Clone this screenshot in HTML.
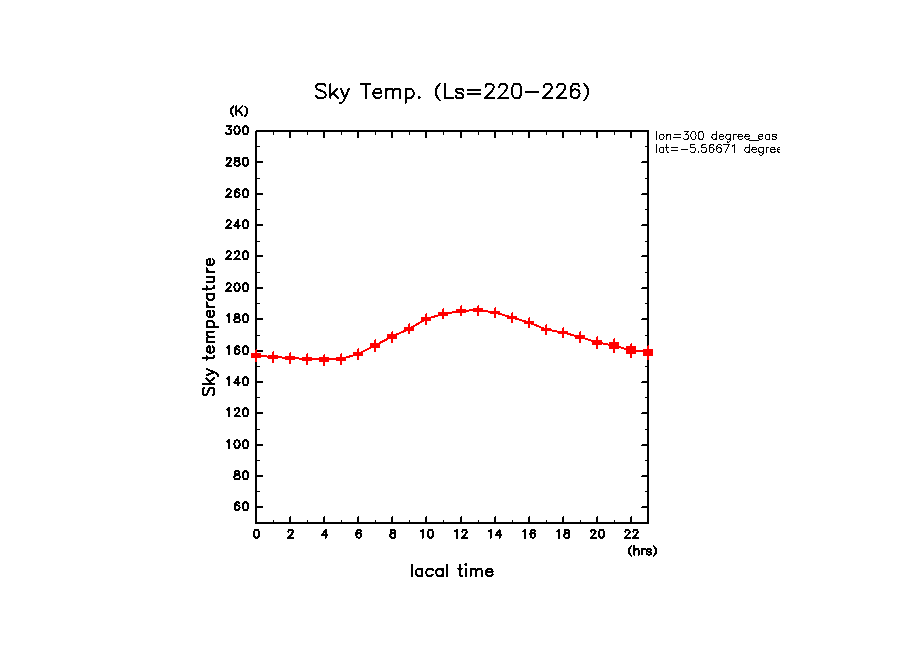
<!DOCTYPE html>
<html><head><meta charset="utf-8"><title>Sky Temp. (Ls=220-226)</title>
<style>html,body{margin:0;padding:0;overflow:hidden;background:#fff;font-family:"Liberation Sans",sans-serif}svg{display:block}</style>
</head><body>
<svg width="904" height="654" viewBox="0 0 904 654" shape-rendering="crispEdges">
<defs><clipPath id="c"><rect x="650" y="120" width="130" height="45"/></clipPath></defs>
<rect width="904" height="654" fill="#fff"/>
<g><rect x="255" y="130" width="394" height="2" fill="#000"/><rect x="255" y="522" width="394" height="2" fill="#000"/><rect x="255" y="130" width="2" height="394" fill="#000"/><rect x="647" y="130" width="2" height="394" fill="#000"/><rect x="255" y="130" width="1" height="1" fill="#fff"/><rect x="273" y="132" width="1" height="3" fill="#000"/><rect x="273" y="520" width="1" height="2" fill="#000"/><rect x="289" y="132" width="2" height="6" fill="#000"/><rect x="289" y="517" width="1" height="5" fill="#000"/><rect x="290" y="516" width="1" height="6" fill="#000"/><rect x="307" y="132" width="1" height="3" fill="#000"/><rect x="307" y="520" width="1" height="2" fill="#000"/><rect x="323" y="132" width="2" height="6" fill="#000"/><rect x="323" y="517" width="1" height="5" fill="#000"/><rect x="324" y="516" width="1" height="6" fill="#000"/><rect x="341" y="132" width="1" height="3" fill="#000"/><rect x="341" y="520" width="1" height="2" fill="#000"/><rect x="357" y="132" width="2" height="6" fill="#000"/><rect x="357" y="517" width="1" height="5" fill="#000"/><rect x="358" y="516" width="1" height="6" fill="#000"/><rect x="375" y="132" width="1" height="3" fill="#000"/><rect x="375" y="520" width="1" height="2" fill="#000"/><rect x="391" y="132" width="2" height="6" fill="#000"/><rect x="391" y="517" width="1" height="5" fill="#000"/><rect x="392" y="516" width="1" height="6" fill="#000"/><rect x="409" y="132" width="1" height="3" fill="#000"/><rect x="409" y="520" width="1" height="2" fill="#000"/><rect x="425" y="132" width="2" height="6" fill="#000"/><rect x="425" y="517" width="1" height="5" fill="#000"/><rect x="426" y="516" width="1" height="6" fill="#000"/><rect x="443" y="132" width="1" height="3" fill="#000"/><rect x="443" y="520" width="1" height="2" fill="#000"/><rect x="460" y="132" width="2" height="6" fill="#000"/><rect x="460" y="517" width="1" height="5" fill="#000"/><rect x="461" y="516" width="1" height="6" fill="#000"/><rect x="478" y="132" width="1" height="3" fill="#000"/><rect x="478" y="520" width="1" height="2" fill="#000"/><rect x="494" y="132" width="2" height="6" fill="#000"/><rect x="494" y="517" width="1" height="5" fill="#000"/><rect x="495" y="516" width="1" height="6" fill="#000"/><rect x="512" y="132" width="1" height="3" fill="#000"/><rect x="512" y="520" width="1" height="2" fill="#000"/><rect x="528" y="132" width="2" height="6" fill="#000"/><rect x="528" y="517" width="1" height="5" fill="#000"/><rect x="529" y="516" width="1" height="6" fill="#000"/><rect x="546" y="132" width="1" height="3" fill="#000"/><rect x="546" y="520" width="1" height="2" fill="#000"/><rect x="562" y="132" width="2" height="6" fill="#000"/><rect x="562" y="517" width="1" height="5" fill="#000"/><rect x="563" y="516" width="1" height="6" fill="#000"/><rect x="580" y="132" width="1" height="3" fill="#000"/><rect x="580" y="520" width="1" height="2" fill="#000"/><rect x="596" y="132" width="2" height="6" fill="#000"/><rect x="596" y="517" width="1" height="5" fill="#000"/><rect x="597" y="516" width="1" height="6" fill="#000"/><rect x="614" y="132" width="1" height="3" fill="#000"/><rect x="614" y="520" width="1" height="2" fill="#000"/><rect x="630" y="132" width="2" height="6" fill="#000"/><rect x="630" y="517" width="1" height="5" fill="#000"/><rect x="631" y="516" width="1" height="6" fill="#000"/><rect x="257" y="506" width="6" height="2" fill="#000"/><rect x="642" y="506" width="5" height="1" fill="#000"/><rect x="641" y="507" width="6" height="1" fill="#000"/><rect x="257" y="491" width="3" height="1" fill="#000"/><rect x="645" y="491" width="2" height="1" fill="#000"/><rect x="257" y="475" width="6" height="2" fill="#000"/><rect x="642" y="475" width="5" height="1" fill="#000"/><rect x="641" y="476" width="6" height="1" fill="#000"/><rect x="257" y="460" width="3" height="1" fill="#000"/><rect x="645" y="460" width="2" height="1" fill="#000"/><rect x="257" y="444" width="6" height="2" fill="#000"/><rect x="642" y="444" width="5" height="1" fill="#000"/><rect x="641" y="445" width="6" height="1" fill="#000"/><rect x="257" y="429" width="3" height="1" fill="#000"/><rect x="645" y="429" width="2" height="1" fill="#000"/><rect x="257" y="412" width="6" height="2" fill="#000"/><rect x="642" y="412" width="5" height="1" fill="#000"/><rect x="641" y="413" width="6" height="1" fill="#000"/><rect x="257" y="397" width="3" height="1" fill="#000"/><rect x="645" y="397" width="2" height="1" fill="#000"/><rect x="257" y="381" width="6" height="2" fill="#000"/><rect x="642" y="381" width="5" height="1" fill="#000"/><rect x="641" y="382" width="6" height="1" fill="#000"/><rect x="257" y="366" width="3" height="1" fill="#000"/><rect x="645" y="366" width="2" height="1" fill="#000"/><rect x="257" y="350" width="6" height="2" fill="#000"/><rect x="642" y="350" width="5" height="1" fill="#000"/><rect x="641" y="351" width="6" height="1" fill="#000"/><rect x="257" y="335" width="3" height="1" fill="#000"/><rect x="645" y="335" width="2" height="1" fill="#000"/><rect x="257" y="318" width="6" height="2" fill="#000"/><rect x="642" y="318" width="5" height="1" fill="#000"/><rect x="641" y="319" width="6" height="1" fill="#000"/><rect x="257" y="303" width="3" height="1" fill="#000"/><rect x="645" y="303" width="2" height="1" fill="#000"/><rect x="257" y="287" width="6" height="2" fill="#000"/><rect x="642" y="287" width="5" height="1" fill="#000"/><rect x="641" y="288" width="6" height="1" fill="#000"/><rect x="257" y="272" width="3" height="1" fill="#000"/><rect x="645" y="272" width="2" height="1" fill="#000"/><rect x="257" y="255" width="6" height="2" fill="#000"/><rect x="642" y="255" width="5" height="1" fill="#000"/><rect x="641" y="256" width="6" height="1" fill="#000"/><rect x="257" y="241" width="3" height="1" fill="#000"/><rect x="645" y="241" width="2" height="1" fill="#000"/><rect x="257" y="224" width="6" height="2" fill="#000"/><rect x="642" y="224" width="5" height="1" fill="#000"/><rect x="641" y="225" width="6" height="1" fill="#000"/><rect x="257" y="209" width="3" height="1" fill="#000"/><rect x="645" y="209" width="2" height="1" fill="#000"/><rect x="257" y="193" width="6" height="2" fill="#000"/><rect x="642" y="193" width="5" height="1" fill="#000"/><rect x="641" y="194" width="6" height="1" fill="#000"/><rect x="257" y="178" width="3" height="1" fill="#000"/><rect x="645" y="178" width="2" height="1" fill="#000"/><rect x="257" y="161" width="6" height="2" fill="#000"/><rect x="642" y="161" width="5" height="1" fill="#000"/><rect x="641" y="162" width="6" height="1" fill="#000"/><rect x="257" y="146" width="3" height="1" fill="#000"/><rect x="645" y="146" width="2" height="1" fill="#000"/></g>
<g><path d="M325.52 85.78L324.16 84.40L322.12 83.71L319.40 83.71L317.36 84.40L316.00 85.78L316.00 87.16L317.36 89.23L324.16 91.99L325.52 94.06L325.52 96.13L324.16 97.51L322.12 98.20L319.40 98.20L317.36 97.51L316.00 96.13M330.46 98.20L330.46 95.44M337.94 98.20L333.18 92.68M330.46 95.44L333.18 92.68M330.46 95.44L330.46 83.71M337.26 88.54L333.18 92.68M340.16 103.03L342.20 102.34L343.56 100.96L344.92 98.20M344.92 98.20L349.00 88.54M344.92 98.20L340.84 88.54" fill="none" stroke="#000" stroke-width="2" stroke-linecap="round" stroke-linejoin="round" /><path d="M365.76 83.71L365.76 98.20M365.76 83.71L370.52 83.71M365.76 83.71L361.00 83.71M373.29 92.68L381.45 92.68L381.45 91.30L380.09 89.23L378.73 88.54L376.69 88.54L375.33 89.23L373.97 90.61L373.29 92.68M373.29 92.68L373.29 94.06L373.97 96.13L375.33 97.51L376.69 98.20L378.73 98.20L380.09 97.51L381.45 96.13M386.26 88.54L386.26 91.30M386.26 98.20L386.26 91.30M393.22 98.20L393.22 91.30M386.26 91.30L388.16 89.23L389.43 88.54L391.32 88.54L392.59 89.23L393.22 91.30M400.18 98.20L400.18 91.30L399.54 89.23L398.28 88.54L396.38 88.54L395.12 89.23L393.22 91.30M405.67 96.13L405.67 103.03M405.67 96.13L407.03 97.51L408.39 98.20L410.43 98.20L411.79 97.51L413.15 96.13L413.83 94.06L413.83 92.68L413.15 90.61L411.79 89.23L410.43 88.54L408.39 88.54L407.03 89.23L405.67 90.61M405.67 96.13L405.67 90.61M405.67 90.61L405.67 88.54M419.32 98.20L418.64 97.51L419.32 96.82L420.00 97.51L419.32 98.20" fill="none" stroke="#000" stroke-width="2" stroke-linecap="round" stroke-linejoin="round" /><path d="M439.81 83.71L437.63 86.30L436.54 88.37L436.00 90.95L436.00 93.03L436.54 95.61L438.72 99.23L439.81 100.27M444.97 83.71L444.97 98.20L453.13 98.20M455.77 96.13L456.45 97.51L458.49 98.20L460.53 98.20L462.57 97.51L463.25 96.13L462.57 94.06L461.21 93.37L457.81 92.68L456.45 91.99L455.77 90.61L456.45 89.23L458.49 88.54L460.53 88.54L462.57 89.23L463.25 90.61M480.17 94.06L467.93 94.06M480.17 89.92L467.93 89.92M494.37 98.20L484.85 98.20M484.85 98.20L491.65 91.30L493.69 87.85L493.69 86.47L493.01 85.09L490.97 83.71L488.25 83.71L486.89 84.40L486.21 85.09L485.53 87.16M507.89 98.20L498.37 98.20M498.37 98.20L505.17 91.30L507.21 87.85L507.21 86.47L506.53 85.09L504.49 83.71L501.77 83.71L500.41 84.40L499.73 85.09L499.05 87.16M515.97 98.20L517.33 98.20L519.37 97.51L520.73 95.44L521.41 91.99L521.41 89.92L520.73 86.47L519.37 84.40L517.33 83.71L515.97 83.71L513.93 84.40L512.57 86.47L511.89 89.92L511.89 91.99L512.57 95.44L513.93 97.51L515.97 98.20M526.09 91.99L538.33 91.99M552.54 98.20L543.02 98.20M543.02 98.20L549.82 91.30L551.86 87.85L551.86 86.47L551.18 85.09L549.14 83.71L546.42 83.71L545.06 84.40L544.38 85.09L543.70 87.16M566.06 98.20L556.54 98.20M556.54 98.20L563.34 91.30L565.38 87.85L565.38 86.47L564.70 85.09L562.66 83.71L559.94 83.71L558.58 84.40L557.90 85.09L557.22 87.16M570.74 93.03L570.74 89.92L571.42 86.81L572.78 84.40L574.82 83.71L576.18 83.71L578.22 84.40L578.90 85.78M570.74 93.03L571.42 91.30L572.78 89.92L574.82 89.23L577.54 89.92L578.90 91.30L579.58 93.37L578.90 96.13L577.54 97.51L574.82 98.20L572.78 97.51L571.42 96.13L570.74 93.37M584.19 83.71L586.37 86.30L587.46 88.37L588.00 90.95L588.00 93.03L587.46 95.61L585.28 99.23L584.19 100.27" fill="none" stroke="#000" stroke-width="2" stroke-linecap="round" stroke-linejoin="round" /><path d="M233.30 106.40L231.98 107.90L231.33 109.10L231.00 110.60L231.00 111.80L231.33 113.30L232.64 115.40L233.30 116.00M242.18 114.80L238.49 110.00M242.18 106.40L238.49 110.00M236.44 114.80L236.44 112.00M236.44 106.40L236.44 112.00M238.49 110.00L236.44 112.00M245.00 106.40L246.32 107.90L246.97 109.10L247.30 110.60L247.30 111.80L246.97 113.30L245.66 115.40L245.00 116.00" fill="none" stroke="#000" stroke-width="2" stroke-linecap="round" stroke-linejoin="round" /><path d="M234.83 507.35L234.83 505.64L235.20 503.93L235.94 502.60L237.05 502.22L237.79 502.22L238.90 502.60L239.27 503.36M234.83 507.35L235.20 506.40L235.94 505.64L237.05 505.26L238.53 505.64L239.27 506.40L239.64 507.54L239.27 509.06L238.53 509.82L237.05 510.20L235.94 509.82L235.20 509.06L234.83 507.54M245.04 510.20L245.78 510.20L246.89 509.82L247.63 508.68L248.00 506.78L248.00 505.64L247.63 503.74L246.89 502.60L245.78 502.22L245.04 502.22L243.93 502.60L243.19 503.74L242.82 505.64L242.82 506.78L243.19 508.68L243.93 509.82L245.04 510.20" fill="none" stroke="#000" stroke-width="2" stroke-linecap="round" stroke-linejoin="round" /><path d="M237.05 474.64L235.20 473.88L234.83 473.12L234.83 472.36L235.20 471.60L236.31 471.22L237.79 471.22L238.90 471.60L239.27 472.36L239.27 473.12L238.90 473.88L237.05 474.64M237.05 474.64L235.57 475.02L234.83 475.78L234.46 476.54L234.46 477.68L234.83 478.44L235.20 478.82L236.31 479.20L237.79 479.20L238.90 478.82L239.27 478.44L239.64 477.68L239.64 476.54L239.27 475.78L238.53 475.02L237.05 474.64M245.04 479.20L245.78 479.20L246.89 478.82L247.63 477.68L248.00 475.78L248.00 474.64L247.63 472.74L246.89 471.60L245.78 471.22L245.04 471.22L243.93 471.60L243.19 472.74L242.82 474.64L242.82 475.78L243.19 477.68L243.93 478.82L245.04 479.20" fill="none" stroke="#000" stroke-width="2" stroke-linecap="round" stroke-linejoin="round" /><path d="M229.06 440.22L229.06 448.20M229.06 440.22L227.95 441.36L227.21 441.74M236.68 448.20L237.42 448.20L238.53 447.82L239.27 446.68L239.64 444.78L239.64 443.64L239.27 441.74L238.53 440.60L237.42 440.22L236.68 440.22L235.57 440.60L234.83 441.74L234.46 443.64L234.46 444.78L234.83 446.68L235.57 447.82L236.68 448.20M245.04 448.20L245.78 448.20L246.89 447.82L247.63 446.68L248.00 444.78L248.00 443.64L247.63 441.74L246.89 440.60L245.78 440.22L245.04 440.22L243.93 440.60L243.19 441.74L242.82 443.64L242.82 444.78L243.19 446.68L243.93 447.82L245.04 448.20" fill="none" stroke="#000" stroke-width="2" stroke-linecap="round" stroke-linejoin="round" /><path d="M229.06 408.22L229.06 416.20M229.06 408.22L227.95 409.36L227.21 409.74M239.64 416.20L234.46 416.20M234.46 416.20L238.16 412.40L239.27 410.50L239.27 409.74L238.90 408.98L237.79 408.22L236.31 408.22L235.57 408.60L235.20 408.98L234.83 410.12M245.04 416.20L245.78 416.20L246.89 415.82L247.63 414.68L248.00 412.78L248.00 411.64L247.63 409.74L246.89 408.60L245.78 408.22L245.04 408.22L243.93 408.60L243.19 409.74L242.82 411.64L242.82 412.78L243.19 414.68L243.93 415.82L245.04 416.20" fill="none" stroke="#000" stroke-width="2" stroke-linecap="round" stroke-linejoin="round" /><path d="M229.06 377.22L229.06 385.20M229.06 377.22L227.95 378.36L227.21 378.74M240.01 382.54L238.16 382.54M238.16 377.22L238.16 382.54M234.46 382.54L238.16 377.22M234.46 382.54L238.16 382.54M238.16 382.54L238.16 385.20M245.04 385.20L245.78 385.20L246.89 384.82L247.63 383.68L248.00 381.78L248.00 380.64L247.63 378.74L246.89 377.60L245.78 377.22L245.04 377.22L243.93 377.60L243.19 378.74L242.82 380.64L242.82 381.78L243.19 383.68L243.93 384.82L245.04 385.20" fill="none" stroke="#000" stroke-width="2" stroke-linecap="round" stroke-linejoin="round" /><path d="M229.06 346.22L229.06 354.20M229.06 346.22L227.95 347.36L227.21 347.74M234.83 351.35L234.83 349.64L235.20 347.93L235.94 346.60L237.05 346.22L237.79 346.22L238.90 346.60L239.27 347.36M234.83 351.35L235.20 350.40L235.94 349.64L237.05 349.26L238.53 349.64L239.27 350.40L239.64 351.54L239.27 353.06L238.53 353.82L237.05 354.20L235.94 353.82L235.20 353.06L234.83 351.54M245.04 354.20L245.78 354.20L246.89 353.82L247.63 352.68L248.00 350.78L248.00 349.64L247.63 347.74L246.89 346.60L245.78 346.22L245.04 346.22L243.93 346.60L243.19 347.74L242.82 349.64L242.82 350.78L243.19 352.68L243.93 353.82L245.04 354.20" fill="none" stroke="#000" stroke-width="2" stroke-linecap="round" stroke-linejoin="round" /><path d="M229.06 314.22L229.06 322.20M229.06 314.22L227.95 315.36L227.21 315.74M237.05 317.64L235.20 316.88L234.83 316.12L234.83 315.36L235.20 314.60L236.31 314.22L237.79 314.22L238.90 314.60L239.27 315.36L239.27 316.12L238.90 316.88L237.05 317.64M237.05 317.64L235.57 318.02L234.83 318.78L234.46 319.54L234.46 320.68L234.83 321.44L235.20 321.82L236.31 322.20L237.79 322.20L238.90 321.82L239.27 321.44L239.64 320.68L239.64 319.54L239.27 318.78L238.53 318.02L237.05 317.64M245.04 322.20L245.78 322.20L246.89 321.82L247.63 320.68L248.00 318.78L248.00 317.64L247.63 315.74L246.89 314.60L245.78 314.22L245.04 314.22L243.93 314.60L243.19 315.74L242.82 317.64L242.82 318.78L243.19 320.68L243.93 321.82L245.04 322.20" fill="none" stroke="#000" stroke-width="2" stroke-linecap="round" stroke-linejoin="round" /><path d="M231.28 291.20L226.10 291.20M226.10 291.20L229.80 287.40L230.91 285.50L230.91 284.74L230.54 283.98L229.43 283.22L227.95 283.22L227.21 283.60L226.84 283.98L226.47 285.12M236.68 291.20L237.42 291.20L238.53 290.82L239.27 289.68L239.64 287.78L239.64 286.64L239.27 284.74L238.53 283.60L237.42 283.22L236.68 283.22L235.57 283.60L234.83 284.74L234.46 286.64L234.46 287.78L234.83 289.68L235.57 290.82L236.68 291.20M245.04 291.20L245.78 291.20L246.89 290.82L247.63 289.68L248.00 287.78L248.00 286.64L247.63 284.74L246.89 283.60L245.78 283.22L245.04 283.22L243.93 283.60L243.19 284.74L242.82 286.64L242.82 287.78L243.19 289.68L243.93 290.82L245.04 291.20" fill="none" stroke="#000" stroke-width="2" stroke-linecap="round" stroke-linejoin="round" /><path d="M231.28 259.20L226.10 259.20M226.10 259.20L229.80 255.40L230.91 253.50L230.91 252.74L230.54 251.98L229.43 251.22L227.95 251.22L227.21 251.60L226.84 251.98L226.47 253.12M239.64 259.20L234.46 259.20M234.46 259.20L238.16 255.40L239.27 253.50L239.27 252.74L238.90 251.98L237.79 251.22L236.31 251.22L235.57 251.60L235.20 251.98L234.83 253.12M245.04 259.20L245.78 259.20L246.89 258.82L247.63 257.68L248.00 255.78L248.00 254.64L247.63 252.74L246.89 251.60L245.78 251.22L245.04 251.22L243.93 251.60L243.19 252.74L242.82 254.64L242.82 255.78L243.19 257.68L243.93 258.82L245.04 259.20" fill="none" stroke="#000" stroke-width="2" stroke-linecap="round" stroke-linejoin="round" /><path d="M231.28 228.20L226.10 228.20M226.10 228.20L229.80 224.40L230.91 222.50L230.91 221.74L230.54 220.98L229.43 220.22L227.95 220.22L227.21 220.60L226.84 220.98L226.47 222.12M240.01 225.54L238.16 225.54M238.16 220.22L238.16 225.54M234.46 225.54L238.16 220.22M234.46 225.54L238.16 225.54M238.16 225.54L238.16 228.20M245.04 228.20L245.78 228.20L246.89 227.82L247.63 226.68L248.00 224.78L248.00 223.64L247.63 221.74L246.89 220.60L245.78 220.22L245.04 220.22L243.93 220.60L243.19 221.74L242.82 223.64L242.82 224.78L243.19 226.68L243.93 227.82L245.04 228.20" fill="none" stroke="#000" stroke-width="2" stroke-linecap="round" stroke-linejoin="round" /><path d="M231.28 197.20L226.10 197.20M226.10 197.20L229.80 193.40L230.91 191.50L230.91 190.74L230.54 189.98L229.43 189.22L227.95 189.22L227.21 189.60L226.84 189.98L226.47 191.12M234.83 194.35L234.83 192.64L235.20 190.93L235.94 189.60L237.05 189.22L237.79 189.22L238.90 189.60L239.27 190.36M234.83 194.35L235.20 193.40L235.94 192.64L237.05 192.26L238.53 192.64L239.27 193.40L239.64 194.54L239.27 196.06L238.53 196.82L237.05 197.20L235.94 196.82L235.20 196.06L234.83 194.54M245.04 197.20L245.78 197.20L246.89 196.82L247.63 195.68L248.00 193.78L248.00 192.64L247.63 190.74L246.89 189.60L245.78 189.22L245.04 189.22L243.93 189.60L243.19 190.74L242.82 192.64L242.82 193.78L243.19 195.68L243.93 196.82L245.04 197.20" fill="none" stroke="#000" stroke-width="2" stroke-linecap="round" stroke-linejoin="round" /><path d="M231.28 165.70L226.10 165.70M226.10 165.70L229.80 161.90L230.91 160.00L230.91 159.24L230.54 158.48L229.43 157.72L227.95 157.72L227.21 158.10L226.84 158.48L226.47 159.62M237.05 161.14L235.20 160.38L234.83 159.62L234.83 158.86L235.20 158.10L236.31 157.72L237.79 157.72L238.90 158.10L239.27 158.86L239.27 159.62L238.90 160.38L237.05 161.14M237.05 161.14L235.57 161.52L234.83 162.28L234.46 163.04L234.46 164.18L234.83 164.94L235.20 165.32L236.31 165.70L237.79 165.70L238.90 165.32L239.27 164.94L239.64 164.18L239.64 163.04L239.27 162.28L238.53 161.52L237.05 161.14M245.04 165.70L245.78 165.70L246.89 165.32L247.63 164.18L248.00 162.28L248.00 161.14L247.63 159.24L246.89 158.10L245.78 157.72L245.04 157.72L243.93 158.10L243.19 159.24L242.82 161.14L242.82 162.28L243.19 164.18L243.93 165.32L245.04 165.70" fill="none" stroke="#000" stroke-width="2" stroke-linecap="round" stroke-linejoin="round" /><path d="M230.91 126.22L228.69 129.26M230.91 126.22L226.84 126.22M226.10 132.68L226.84 133.82L227.95 134.20L229.06 134.20L230.17 133.82L230.91 133.06L231.28 131.92L231.28 131.16L230.91 130.02L229.80 129.26L228.69 129.26M236.68 134.20L237.42 134.20L238.53 133.82L239.27 132.68L239.64 130.78L239.64 129.64L239.27 127.74L238.53 126.60L237.42 126.22L236.68 126.22L235.57 126.60L234.83 127.74L234.46 129.64L234.46 130.78L234.83 132.68L235.57 133.82L236.68 134.20M245.04 134.20L245.78 134.20L246.89 133.82L247.63 132.68L248.00 130.78L248.00 129.64L247.63 127.74L246.89 126.60L245.78 126.22L245.04 126.22L243.93 126.60L243.19 127.74L242.82 129.64L242.82 130.78L243.19 132.68L243.93 133.82L245.04 134.20" fill="none" stroke="#000" stroke-width="2" stroke-linecap="round" stroke-linejoin="round" /><path d="M256.13 537.80L256.87 537.80L257.98 537.42L258.72 536.28L259.09 534.38L259.09 533.24L258.72 531.34L257.98 530.20L256.87 529.82L256.13 529.82L255.02 530.20L254.28 531.34L253.91 533.24L253.91 534.38L254.28 536.28L255.02 537.42L256.13 537.80" fill="none" stroke="#000" stroke-width="2" stroke-linecap="round" stroke-linejoin="round" /><path d="M293.18 537.80L288.00 537.80M288.00 537.80L291.70 534.00L292.81 532.10L292.81 531.34L292.44 530.58L291.33 529.82L289.85 529.82L289.11 530.20L288.74 530.58L288.37 531.72" fill="none" stroke="#000" stroke-width="2" stroke-linecap="round" stroke-linejoin="round" /><path d="M327.45 535.14L325.60 535.14M325.60 529.82L325.60 535.14M321.90 535.14L325.60 529.82M321.90 535.14L325.60 535.14M325.60 535.14L325.60 537.80" fill="none" stroke="#000" stroke-width="2" stroke-linecap="round" stroke-linejoin="round" /><path d="M356.36 534.95L356.36 533.24L356.73 531.53L357.47 530.20L358.58 529.82L359.32 529.82L360.43 530.20L360.80 530.96M356.36 534.95L356.73 534.00L357.47 533.24L358.58 532.86L360.06 533.24L360.80 534.00L361.17 535.14L360.80 536.66L360.06 537.42L358.58 537.80L357.47 537.42L356.73 536.66L356.36 535.14" fill="none" stroke="#000" stroke-width="2" stroke-linecap="round" stroke-linejoin="round" /><path d="M392.85 533.24L391.00 532.48L390.63 531.72L390.63 530.96L391.00 530.20L392.11 529.82L393.59 529.82L394.70 530.20L395.07 530.96L395.07 531.72L394.70 532.48L392.85 533.24M392.85 533.24L391.37 533.62L390.63 534.38L390.26 535.14L390.26 536.28L390.63 537.04L391.00 537.42L392.11 537.80L393.59 537.80L394.70 537.42L395.07 537.04L395.44 536.28L395.44 535.14L395.07 534.38L394.33 533.62L392.85 533.24" fill="none" stroke="#000" stroke-width="2" stroke-linecap="round" stroke-linejoin="round" /><path d="M422.68 529.82L422.68 537.80M422.68 529.82L421.57 530.96L420.83 531.34M430.08 537.80L430.82 537.80L431.93 537.42L432.67 536.28L433.04 534.38L433.04 533.24L432.67 531.34L431.93 530.20L430.82 529.82L430.08 529.82L428.97 530.20L428.23 531.34L427.86 533.24L427.86 534.38L428.23 536.28L428.97 537.42L430.08 537.80" fill="none" stroke="#000" stroke-width="2" stroke-linecap="round" stroke-linejoin="round" /><path d="M456.77 529.82L456.77 537.80M456.77 529.82L455.66 530.96L454.92 531.34M467.13 537.80L461.95 537.80M461.95 537.80L465.65 534.00L466.76 532.10L466.76 531.34L466.39 530.58L465.28 529.82L463.80 529.82L463.06 530.20L462.69 530.58L462.32 531.72" fill="none" stroke="#000" stroke-width="2" stroke-linecap="round" stroke-linejoin="round" /><path d="M490.67 529.82L490.67 537.80M490.67 529.82L489.56 530.96L488.82 531.34M501.40 535.14L499.55 535.14M499.55 529.82L499.55 535.14M495.85 535.14L499.55 529.82M495.85 535.14L499.55 535.14M499.55 535.14L499.55 537.80" fill="none" stroke="#000" stroke-width="2" stroke-linecap="round" stroke-linejoin="round" /><path d="M524.94 529.82L524.94 537.80M524.94 529.82L523.83 530.96L523.09 531.34M530.49 534.95L530.49 533.24L530.86 531.53L531.60 530.20L532.71 529.82L533.45 529.82L534.56 530.20L534.93 530.96M530.49 534.95L530.86 534.00L531.60 533.24L532.71 532.86L534.19 533.24L534.93 534.00L535.30 535.14L534.93 536.66L534.19 537.42L532.71 537.80L531.60 537.42L530.86 536.66L530.49 535.14" fill="none" stroke="#000" stroke-width="2" stroke-linecap="round" stroke-linejoin="round" /><path d="M559.03 529.82L559.03 537.80M559.03 529.82L557.92 530.96L557.18 531.34M566.80 533.24L564.95 532.48L564.58 531.72L564.58 530.96L564.95 530.20L566.06 529.82L567.54 529.82L568.65 530.20L569.02 530.96L569.02 531.72L568.65 532.48L566.80 533.24M566.80 533.24L565.32 533.62L564.58 534.38L564.21 535.14L564.21 536.28L564.58 537.04L564.95 537.42L566.06 537.80L567.54 537.80L568.65 537.42L569.02 537.04L569.39 536.28L569.39 535.14L569.02 534.38L568.28 533.62L566.80 533.24" fill="none" stroke="#000" stroke-width="2" stroke-linecap="round" stroke-linejoin="round" /><path d="M595.89 537.80L590.71 537.80M590.71 537.80L594.41 534.00L595.52 532.10L595.52 531.34L595.15 530.58L594.04 529.82L592.56 529.82L591.82 530.20L591.45 530.58L591.08 531.72M601.07 537.80L601.81 537.80L602.92 537.42L603.66 536.28L604.03 534.38L604.03 533.24L603.66 531.34L602.92 530.20L601.81 529.82L601.07 529.82L599.96 530.20L599.22 531.34L598.85 533.24L598.85 534.38L599.22 536.28L599.96 537.42L601.07 537.80" fill="none" stroke="#000" stroke-width="2" stroke-linecap="round" stroke-linejoin="round" /><path d="M629.98 537.80L624.80 537.80M624.80 537.80L628.50 534.00L629.61 532.10L629.61 531.34L629.24 530.58L628.13 529.82L626.65 529.82L625.91 530.20L625.54 530.58L625.17 531.72M638.12 537.80L632.94 537.80M632.94 537.80L636.64 534.00L637.75 532.10L637.75 531.34L637.38 530.58L636.27 529.82L634.79 529.82L634.05 530.20L633.68 530.58L633.31 531.72" fill="none" stroke="#000" stroke-width="2" stroke-linecap="round" stroke-linejoin="round" /><path d="M631.30 546.20L629.98 547.70L629.33 548.90L629.00 550.40L629.00 551.60L629.33 553.10L630.64 555.20L631.30 555.80M634.25 554.60L634.25 550.60M638.76 554.60L638.76 550.60L638.35 549.40L637.53 549.00L636.30 549.00L635.48 549.40L634.25 550.60M634.25 546.20L634.25 550.60M645.12 549.00L643.89 549.00L643.07 549.40L642.25 550.20L641.84 551.20M641.84 551.20L641.84 549.00M641.84 551.40L641.84 554.60M646.56 553.40L646.97 554.20L648.20 554.60L649.43 554.60L650.66 554.20L651.07 553.40L650.66 552.20L649.84 551.80L647.79 551.40L646.97 551.00L646.56 550.20L646.97 549.40L648.20 549.00L649.43 549.00L650.66 549.40L651.07 550.20M653.70 546.20L655.02 547.70L655.67 548.90L656.00 550.40L656.00 551.60L655.67 553.10L654.36 555.20L653.70 555.80" fill="none" stroke="#000" stroke-width="2" stroke-linecap="round" stroke-linejoin="round" /><path d="M412.00 564.65L412.00 576.20M422.40 576.20L422.40 574.55M422.40 574.55L422.40 570.15M422.40 574.55L420.20 576.20L418.55 576.20L417.45 575.65L416.35 574.55L415.80 572.90L415.80 571.80L416.35 570.15L417.45 569.05L418.55 568.50L420.20 568.50L422.40 570.15M422.40 570.15L422.40 568.50M432.80 570.15L431.70 569.05L430.60 568.50L428.95 568.50L427.85 569.05L426.75 570.15L426.20 571.80L426.20 572.90L426.75 574.55L427.85 575.65L428.95 576.20L430.60 576.20L431.70 575.65L432.80 574.55M442.65 576.20L442.65 574.55M442.65 574.55L442.65 570.15M442.65 574.55L440.45 576.20L438.80 576.20L437.70 575.65L436.60 574.55L436.05 572.90L436.05 571.80L436.60 570.15L437.70 569.05L438.80 568.50L440.45 568.50L442.65 570.15M442.65 570.15L442.65 568.50M447.00 564.65L447.00 576.20" fill="none" stroke="#000" stroke-width="2" stroke-linecap="round" stroke-linejoin="round" /><path d="M462.40 576.20L461.30 576.20L460.20 575.65L459.65 574.00L459.65 568.50M459.65 564.65L459.65 568.50M458.00 568.50L459.65 568.50M459.65 568.50L461.85 568.50M465.93 568.50L465.93 576.20M465.93 564.10L465.38 564.65L465.93 565.20L466.48 564.65L465.93 564.10M470.56 568.50L470.56 570.70M470.56 576.20L470.56 570.70M476.19 576.20L476.19 570.70M470.56 570.70L472.10 569.05L473.12 568.50L474.66 568.50L475.68 569.05L476.19 570.70M481.82 576.20L481.82 570.70L481.31 569.05L480.28 568.50L478.75 568.50L477.73 569.05L476.19 570.70M485.90 571.80L492.50 571.80L492.50 570.70L491.40 569.05L490.30 568.50L488.65 568.50L487.55 569.05L486.45 570.15L485.90 571.80M485.90 571.80L485.90 572.90L486.45 574.55L487.55 575.65L488.65 576.20L490.30 576.20L491.40 575.65L492.50 574.55" fill="none" stroke="#000" stroke-width="2" stroke-linecap="round" stroke-linejoin="round" /><g transform="translate(214.2 397) rotate(-90)"><path d="M9.22 -9.90L8.16 -11.00L6.57 -11.55L4.45 -11.55L2.86 -11.00L1.80 -9.90L1.80 -8.80L2.86 -7.15L8.16 -4.95L9.22 -3.30L9.22 -1.65L8.16 -0.55L6.57 0.00L4.45 0.00L2.86 -0.55L1.80 -1.65M13.31 0.00L13.31 -2.20M19.14 0.00L15.43 -4.40M13.31 -2.20L15.43 -4.40M13.31 -2.20L13.31 -11.55M18.61 -7.70L15.43 -4.40M21.11 3.85L22.70 3.30L23.76 2.20L24.82 0.00M24.82 0.00L28.00 -7.70M24.82 0.00L21.64 -7.70" fill="none" stroke="#000" stroke-width="2" stroke-linecap="round" stroke-linejoin="round" /></g><g transform="translate(214.2 397) rotate(-90)"><path d="M41.24 0.00L40.18 0.00L39.12 -0.55L38.59 -2.20L38.59 -7.70M38.59 -11.55L38.59 -7.70M37.00 -7.70L38.59 -7.70M38.59 -7.70L40.71 -7.70M44.21 -4.40L50.57 -4.40L50.57 -5.50L49.51 -7.15L48.45 -7.70L46.86 -7.70L45.80 -7.15L44.74 -6.05L44.21 -4.40M44.21 -4.40L44.21 -3.30L44.74 -1.65L45.80 -0.55L46.86 0.00L48.45 0.00L49.51 -0.55L50.57 -1.65M54.61 -7.70L54.61 -5.50M54.61 0.00L54.61 -5.50M60.03 0.00L60.03 -5.50M54.61 -5.50L56.09 -7.15L57.07 -7.70L58.55 -7.70L59.54 -7.15L60.03 -5.50M65.45 0.00L65.45 -5.50L64.96 -7.15L63.97 -7.70L62.49 -7.70L61.51 -7.15L60.03 -5.50M70.01 -1.65L70.01 3.85M70.01 -1.65L71.07 -0.55L72.13 0.00L73.72 0.00L74.78 -0.55L75.84 -1.65L76.37 -3.30L76.37 -4.40L75.84 -6.05L74.78 -7.15L73.72 -7.70L72.13 -7.70L71.07 -7.15L70.01 -6.05M70.01 -1.65L70.01 -6.05M70.01 -6.05L70.01 -7.70M79.88 -4.40L86.24 -4.40L86.24 -5.50L85.18 -7.15L84.12 -7.70L82.53 -7.70L81.47 -7.15L80.41 -6.05L79.88 -4.40M79.88 -4.40L79.88 -3.30L80.41 -1.65L81.47 -0.55L82.53 0.00L84.12 0.00L85.18 -0.55L86.24 -1.65M94.51 -7.70L92.92 -7.70L91.86 -7.15L90.80 -6.05L90.27 -4.68M90.27 -4.68L90.27 -7.70M90.27 -4.40L90.27 0.00M103.32 0.00L103.32 -1.65M103.32 -1.65L103.32 -6.05M103.32 -1.65L101.20 0.00L99.61 0.00L98.55 -0.55L97.49 -1.65L96.96 -3.30L96.96 -4.40L97.49 -6.05L98.55 -7.15L99.61 -7.70L101.20 -7.70L103.32 -6.05M103.32 -6.05L103.32 -7.70M111.06 0.00L110.00 0.00L108.94 -0.55L108.41 -2.20L108.41 -7.70M108.41 -11.55L108.41 -7.70M106.82 -7.70L108.41 -7.70M108.41 -7.70L110.53 -7.70M120.39 0.00L120.39 -2.20M120.39 -7.70L120.39 -2.20M120.39 -2.20L118.80 -0.55L117.74 0.00L116.15 0.00L115.09 -0.55L114.56 -2.20L114.56 -7.70M129.20 -7.70L127.61 -7.70L126.55 -7.15L125.49 -6.05L124.96 -4.68M124.96 -4.68L124.96 -7.70M124.96 -4.40L124.96 0.00M131.64 -4.40L138.00 -4.40L138.00 -5.50L136.94 -7.15L135.88 -7.70L134.29 -7.70L133.23 -7.15L132.17 -6.05L131.64 -4.40M131.64 -4.40L131.64 -3.30L132.17 -1.65L133.23 -0.55L134.29 0.00L135.88 0.00L136.94 -0.55L138.00 -1.65" fill="none" stroke="#000" stroke-width="2" stroke-linecap="round" stroke-linejoin="round" /></g><g clip-path="url(#c)"><path d="M656.50 131.52L656.50 139.50M659.54 135.32L660.29 134.56L661.04 134.18L662.16 134.18L662.91 134.56L663.66 135.32L664.04 136.46L664.04 137.22L663.66 138.36L662.91 139.12L662.16 139.50L661.04 139.50L660.29 139.12L659.54 138.36L659.16 137.22L659.16 136.46L659.54 135.32M670.83 139.50L670.83 135.70L670.45 134.56L669.70 134.18L668.58 134.18L667.83 134.56L666.70 135.70M666.70 135.70L666.70 134.18M666.70 135.70L666.70 139.50M680.61 137.22L673.86 137.22M680.61 134.94L673.86 134.94M688.15 131.52L685.90 134.56M688.15 131.52L684.02 131.52M683.27 137.98L684.02 139.12L685.15 139.50L686.27 139.50L687.40 139.12L688.15 138.36L688.52 137.22L688.52 136.46L688.15 135.32L687.02 134.56L685.90 134.56M693.06 139.50L693.81 139.50L694.94 139.12L695.69 137.98L696.06 136.08L696.06 134.94L695.69 133.04L694.94 131.90L693.81 131.52L693.06 131.52L691.94 131.90L691.19 133.04L690.81 134.94L690.81 136.08L691.19 137.98L691.94 139.12L693.06 139.50M700.60 139.50L701.35 139.50L702.48 139.12L703.23 137.98L703.60 136.08L703.60 134.94L703.23 133.04L702.48 131.90L701.35 131.52L700.60 131.52L699.48 131.90L698.73 133.04L698.35 134.94L698.35 136.08L698.73 137.98L699.48 139.12L700.60 139.50M716.42 139.50L716.42 138.36M716.42 138.36L716.42 135.32M716.42 138.36L714.92 139.50L713.80 139.50L713.05 139.12L712.30 138.36L711.92 137.22L711.92 136.46L712.30 135.32L713.05 134.56L713.80 134.18L714.92 134.18L716.42 135.32M716.42 131.52L716.42 135.32M719.09 136.46L723.59 136.46L723.59 135.70L722.84 134.56L722.09 134.18L720.96 134.18L720.21 134.56L719.46 135.32L719.09 136.46M719.09 136.46L719.09 137.22L719.46 138.36L720.21 139.12L720.96 139.50L722.09 139.50L722.84 139.12L723.59 138.36M730.38 138.36L730.38 135.32M730.38 138.36L730.38 140.26L730.00 141.40L729.62 141.78L728.88 142.16L727.75 142.16L727.00 141.78M730.38 138.36L728.88 139.50L727.75 139.50L727.00 139.12L726.25 138.36L725.88 137.22L725.88 136.46L726.25 135.32L727.00 134.56L727.75 134.18L728.88 134.18L730.38 135.32M730.38 135.32L730.38 134.18M736.41 134.18L735.29 134.18L734.54 134.56L733.79 135.32L733.41 136.27M733.41 136.27L733.41 134.18M733.41 136.46L733.41 139.50M737.95 136.46L742.45 136.46L742.45 135.70L741.70 134.56L740.95 134.18L739.83 134.18L739.08 134.56L738.33 135.32L737.95 136.46M737.95 136.46L737.95 137.22L738.33 138.36L739.08 139.12L739.83 139.50L740.95 139.50L741.70 139.12L742.45 138.36M744.74 136.46L749.24 136.46L749.24 135.70L748.49 134.56L747.74 134.18L746.61 134.18L745.86 134.56L745.11 135.32L744.74 136.46M744.74 136.46L744.74 137.22L745.11 138.36L745.86 139.12L746.61 139.50L747.74 139.50L748.49 139.12L749.24 138.36M749.84 140.49L758.27 140.49M758.31 136.46L762.81 136.46L762.81 135.70L762.06 134.56L761.31 134.18L760.19 134.18L759.44 134.56L758.69 135.32L758.31 136.46M758.31 136.46L758.31 137.22L758.69 138.36L759.44 139.12L760.19 139.50L761.31 139.50L762.06 139.12L762.81 138.36M769.60 139.50L769.60 138.36M769.60 138.36L769.60 135.32M769.60 138.36L768.10 139.50L766.97 139.50L766.22 139.12L765.47 138.36L765.10 137.22L765.10 136.46L765.47 135.32L766.22 134.56L766.97 134.18L768.10 134.18L769.60 135.32M769.60 135.32L769.60 134.18M772.26 138.36L772.64 139.12L773.76 139.50L774.89 139.50L776.01 139.12L776.39 138.36L776.01 137.22L775.26 136.84L773.39 136.46L772.64 136.08L772.26 135.32L772.64 134.56L773.76 134.18L774.89 134.18L776.01 134.56L776.39 135.32" fill="none" stroke="#000" stroke-width="1" stroke-linecap="round" stroke-linejoin="round" /><path d="M656.50 144.52L656.50 152.50M663.61 152.50L663.61 151.36M663.61 151.36L663.61 148.32M663.61 151.36L662.11 152.50L660.98 152.50L660.23 152.12L659.48 151.36L659.11 150.22L659.11 149.46L659.48 148.32L660.23 147.56L660.98 147.18L662.11 147.18L663.61 148.32M663.61 148.32L663.61 147.18M668.84 152.50L668.09 152.50L667.34 152.12L666.96 150.98L666.96 147.18M666.96 144.52L666.96 147.18M665.84 147.18L666.96 147.18M666.96 147.18L668.46 147.18M677.82 150.22L671.07 150.22M677.82 147.94L671.07 147.94M680.80 149.08L687.55 149.08M690.16 150.98L690.53 151.74L690.91 152.12L692.03 152.50L693.16 152.50L694.28 152.12L695.03 151.36L695.41 150.22L695.41 149.46L695.03 148.32L694.28 147.56L693.16 147.18L692.03 147.18L690.91 147.56L690.53 147.94M690.53 147.94L690.91 144.52L694.66 144.52M698.39 152.50L698.01 152.12L698.39 151.74L698.76 152.12L698.39 152.50M701.37 150.98L701.74 151.74L702.12 152.12L703.24 152.50L704.37 152.50L705.49 152.12L706.24 151.36L706.62 150.22L706.62 149.46L706.24 148.32L705.49 147.56L704.37 147.18L703.24 147.18L702.12 147.56L701.74 147.94M701.74 147.94L702.12 144.52L705.87 144.52M709.23 149.65L709.23 147.94L709.60 146.23L710.35 144.90L711.48 144.52L712.23 144.52L713.35 144.90L713.73 145.66M709.23 149.65L709.60 148.70L710.35 147.94L711.48 147.56L712.98 147.94L713.73 148.70L714.10 149.84L713.73 151.36L712.98 152.12L711.48 152.50L710.35 152.12L709.60 151.36L709.23 149.84M716.71 149.65L716.71 147.94L717.08 146.23L717.83 144.90L718.96 144.52L719.71 144.52L720.83 144.90L721.21 145.66M716.71 149.65L717.08 148.70L717.83 147.94L718.96 147.56L720.46 147.94L721.21 148.70L721.58 149.84L721.21 151.36L720.46 152.12L718.96 152.50L717.83 152.12L717.08 151.36L716.71 149.84M725.31 152.50L729.06 144.52L723.81 144.52M734.29 144.52L734.29 152.50M734.29 144.52L733.17 145.66L732.42 146.04M749.26 152.50L749.26 151.36M749.26 151.36L749.26 148.32M749.26 151.36L747.76 152.50L746.63 152.50L745.88 152.12L745.13 151.36L744.76 150.22L744.76 149.46L745.13 148.32L745.88 147.56L746.63 147.18L747.76 147.18L749.26 148.32M749.26 144.52L749.26 148.32M751.86 149.46L756.36 149.46L756.36 148.70L755.61 147.56L754.86 147.18L753.74 147.18L752.99 147.56L752.24 148.32L751.86 149.46M751.86 149.46L751.86 150.22L752.24 151.36L752.99 152.12L753.74 152.50L754.86 152.50L755.61 152.12L756.36 151.36M763.09 151.36L763.09 148.32M763.09 151.36L763.09 153.26L762.72 154.40L762.34 154.78L761.59 155.16L760.47 155.16L759.72 154.78M763.09 151.36L761.59 152.50L760.47 152.50L759.72 152.12L758.97 151.36L758.59 150.22L758.59 149.46L758.97 148.32L759.72 147.56L760.47 147.18L761.59 147.18L763.09 148.32M763.09 148.32L763.09 147.18M769.08 147.18L767.95 147.18L767.20 147.56L766.45 148.32L766.08 149.27M766.08 149.27L766.08 147.18M766.08 149.46L766.08 152.50M770.56 149.46L775.06 149.46L775.06 148.70L774.31 147.56L773.56 147.18L772.43 147.18L771.68 147.56L770.93 148.32L770.56 149.46M770.56 149.46L770.56 150.22L770.93 151.36L771.68 152.12L772.43 152.50L773.56 152.50L774.31 152.12L775.06 151.36M777.29 149.46L781.79 149.46L781.79 148.70L781.04 147.56L780.29 147.18L779.16 147.18L778.41 147.56L777.66 148.32L777.29 149.46M777.29 149.46L777.29 150.22L777.66 151.36L778.41 152.12L779.16 152.50L780.29 152.50L781.04 152.12L781.79 151.36M782.33 153.49L790.77 153.49M795.25 152.50L795.25 148.70L794.88 147.56L794.12 147.18L793.00 147.18L792.25 147.56L791.12 148.70M791.12 148.70L791.12 147.18M791.12 148.70L791.12 152.50M798.23 148.32L798.98 147.56L799.73 147.18L800.86 147.18L801.61 147.56L802.36 148.32L802.73 149.46L802.73 150.22L802.36 151.36L801.61 152.12L800.86 152.50L799.73 152.50L798.98 152.12L798.23 151.36L797.86 150.22L797.86 149.46L798.23 148.32M808.34 147.18L807.21 147.18L806.46 147.56L805.71 148.32L805.34 149.27M805.34 149.27L805.34 147.18M805.34 149.46L805.34 152.50M812.44 152.50L811.69 152.50L810.94 152.12L810.57 150.98L810.57 147.18M810.57 144.52L810.57 147.18M809.44 147.18L810.57 147.18M810.57 147.18L812.07 147.18M814.67 152.50L814.67 148.70M818.80 152.50L818.80 148.70L818.42 147.56L817.67 147.18L816.55 147.18L815.80 147.56L814.67 148.70M814.67 144.52L814.67 148.70" fill="none" stroke="#000" stroke-width="1" stroke-linecap="round" stroke-linejoin="round" /></g></g>
<g><polyline points="256,355.5 273,357.0 290,358.0 307,359.0 324,359.5 341,359.0 358,354.0 375,345.5 392,336.5 409,329.0 426,319.0 443,314.0 461,311.0 478,310.0 495,312.5 512,317.5 529,322.5 546,329.5 563,332.5 580,337.0 597,342.5 614,345.5 631,350.5 648,351.2" fill="none" stroke="#ff0000" stroke-width="2"/><rect x="251" y="353" width="10" height="5" fill="#ff0000"/><rect x="255" y="350" width="1" height="12" fill="#ff0000"/><rect x="256" y="349" width="1" height="13" fill="#ff0000"/><rect x="268" y="355" width="10" height="4" fill="#ff0000"/><rect x="272" y="352" width="1" height="11" fill="#ff0000"/><rect x="273" y="351" width="1" height="12" fill="#ff0000"/><rect x="285" y="356" width="10" height="4" fill="#ff0000"/><rect x="289" y="353" width="1" height="11" fill="#ff0000"/><rect x="290" y="352" width="1" height="12" fill="#ff0000"/><rect x="302" y="357" width="10" height="4" fill="#ff0000"/><rect x="306" y="354" width="1" height="11" fill="#ff0000"/><rect x="307" y="353" width="1" height="12" fill="#ff0000"/><rect x="319" y="357" width="10" height="5" fill="#ff0000"/><rect x="323" y="355" width="1" height="11" fill="#ff0000"/><rect x="324" y="354" width="1" height="12" fill="#ff0000"/><rect x="336" y="357" width="10" height="4" fill="#ff0000"/><rect x="340" y="354" width="1" height="11" fill="#ff0000"/><rect x="341" y="353" width="1" height="12" fill="#ff0000"/><rect x="353" y="352" width="10" height="4" fill="#ff0000"/><rect x="357" y="349" width="1" height="11" fill="#ff0000"/><rect x="358" y="348" width="1" height="12" fill="#ff0000"/><rect x="370" y="343" width="10" height="5" fill="#ff0000"/><rect x="374" y="340" width="1" height="12" fill="#ff0000"/><rect x="375" y="339" width="1" height="13" fill="#ff0000"/><rect x="387" y="334" width="10" height="5" fill="#ff0000"/><rect x="391" y="332" width="1" height="11" fill="#ff0000"/><rect x="392" y="331" width="1" height="12" fill="#ff0000"/><rect x="404" y="327" width="10" height="4" fill="#ff0000"/><rect x="408" y="324" width="1" height="10" fill="#ff0000"/><rect x="409" y="323" width="1" height="11" fill="#ff0000"/><rect x="421" y="317" width="10" height="4" fill="#ff0000"/><rect x="425" y="314" width="1" height="11" fill="#ff0000"/><rect x="426" y="313" width="1" height="12" fill="#ff0000"/><rect x="438" y="312" width="10" height="4" fill="#ff0000"/><rect x="442" y="309" width="1" height="10" fill="#ff0000"/><rect x="443" y="308" width="1" height="11" fill="#ff0000"/><rect x="456" y="309" width="10" height="4" fill="#ff0000"/><rect x="460" y="306" width="1" height="10" fill="#ff0000"/><rect x="461" y="305" width="1" height="11" fill="#ff0000"/><rect x="473" y="308" width="10" height="4" fill="#ff0000"/><rect x="477" y="306" width="1" height="10" fill="#ff0000"/><rect x="478" y="305" width="1" height="11" fill="#ff0000"/><rect x="490" y="311" width="10" height="3" fill="#ff0000"/><rect x="494" y="308" width="1" height="10" fill="#ff0000"/><rect x="495" y="307" width="1" height="11" fill="#ff0000"/><rect x="507" y="316" width="10" height="3" fill="#ff0000"/><rect x="511" y="313" width="1" height="10" fill="#ff0000"/><rect x="512" y="312" width="1" height="11" fill="#ff0000"/><rect x="524" y="321" width="10" height="3" fill="#ff0000"/><rect x="528" y="318" width="1" height="10" fill="#ff0000"/><rect x="529" y="317" width="1" height="11" fill="#ff0000"/><rect x="541" y="328" width="10" height="3" fill="#ff0000"/><rect x="545" y="325" width="1" height="10" fill="#ff0000"/><rect x="546" y="324" width="1" height="11" fill="#ff0000"/><rect x="558" y="331" width="10" height="3" fill="#ff0000"/><rect x="562" y="328" width="1" height="10" fill="#ff0000"/><rect x="563" y="327" width="1" height="11" fill="#ff0000"/><rect x="575" y="335" width="10" height="4" fill="#ff0000"/><rect x="579" y="332" width="1" height="11" fill="#ff0000"/><rect x="580" y="331" width="1" height="12" fill="#ff0000"/><rect x="592" y="340" width="10" height="5" fill="#ff0000"/><rect x="596" y="337" width="1" height="12" fill="#ff0000"/><rect x="597" y="336" width="1" height="13" fill="#ff0000"/><rect x="609" y="342" width="10" height="7" fill="#ff0000"/><rect x="613" y="339" width="1" height="14" fill="#ff0000"/><rect x="614" y="338" width="1" height="15" fill="#ff0000"/><rect x="626" y="346" width="10" height="8" fill="#ff0000"/><rect x="630" y="344" width="1" height="14" fill="#ff0000"/><rect x="631" y="343" width="1" height="15" fill="#ff0000"/><rect x="643" y="349" width="10" height="7" fill="#ff0000"/><rect x="647" y="346" width="1" height="14" fill="#ff0000"/><rect x="648" y="345" width="1" height="15" fill="#ff0000"/></g>
</svg>
</body></html>
